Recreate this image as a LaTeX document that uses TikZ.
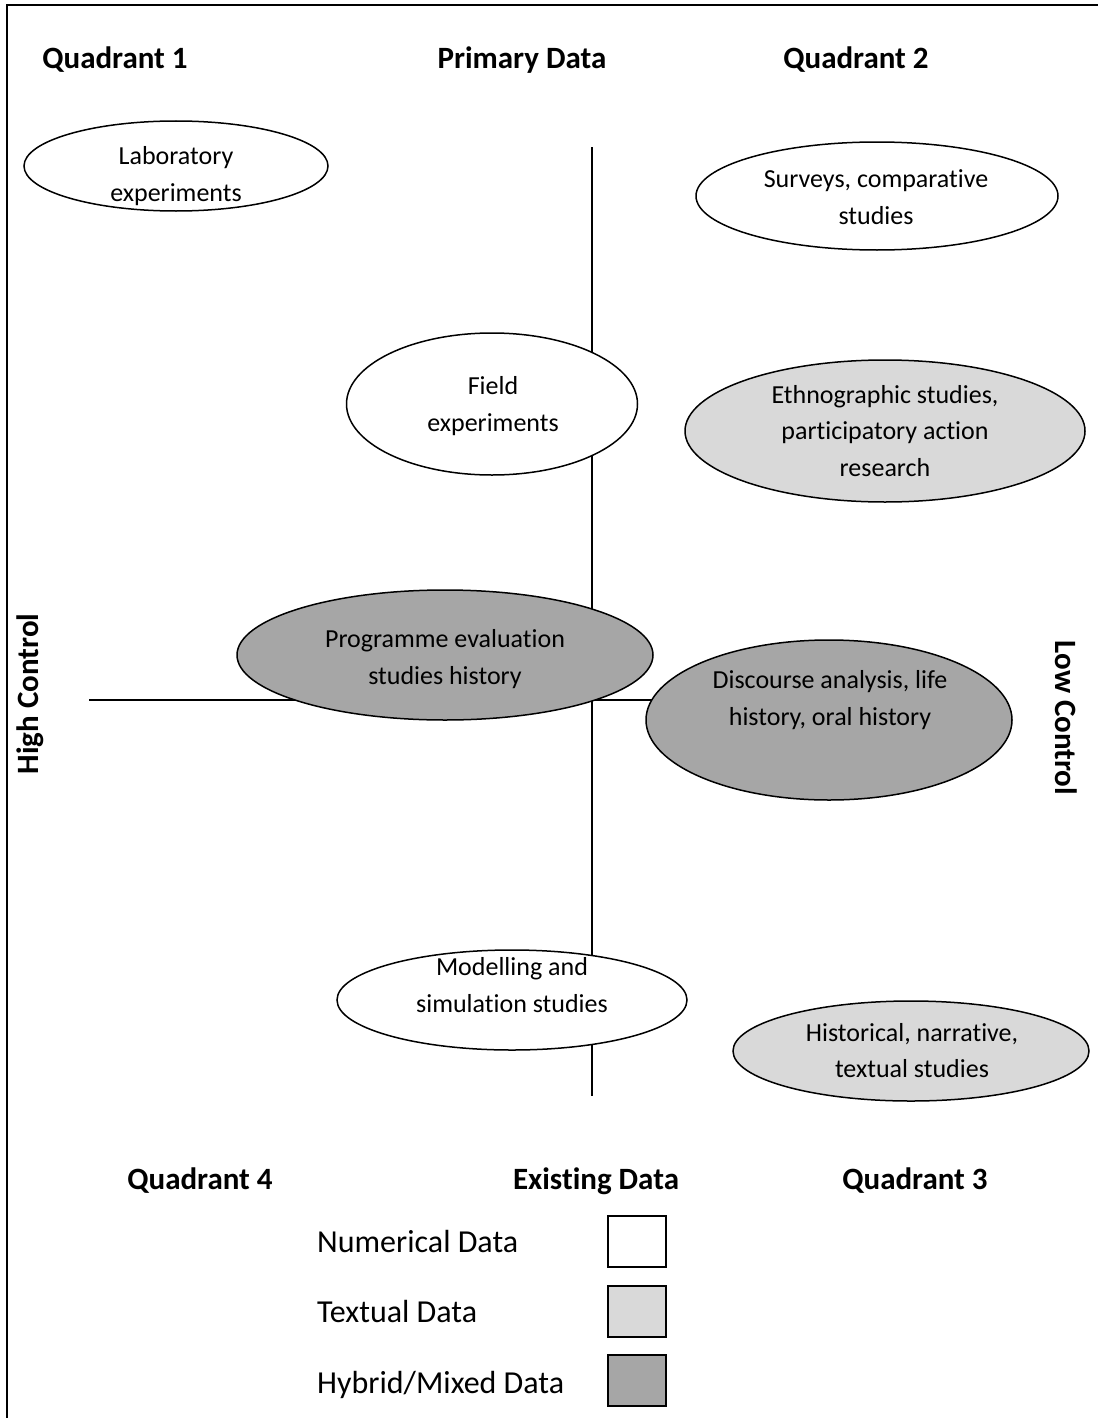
\documentclass[tikz,border=0pt]{standalone}
\usepackage{fontspec}
\setmainfont{Carlito}[Ligatures={NoCommon}, Contextuals={NoAlternate}]
\usetikzlibrary{shapes.geometric}
\definecolor{lightfill}{HTML}{D9D9D9}
\definecolor{darkfill}{HTML}{A6A6A6}
\tikzset{
 oval/.style={ellipse, draw, line width=1.5pt, inner sep=0pt},
 ovaltext/.style={align=center, font=\fontsize{26}{36.5}\selectfont, inner sep=0pt},
 head/.style={font=\bfseries\fontsize{31}{36}\selectfont, inner sep=0pt},
 axisline/.style={line width=2pt},
 frameline/.style={line width=2pt},
 legtext/.style={font=\fontsize{32}{38}\selectfont, anchor=west, inner sep=0pt},
 legbox/.style={draw, line width=2pt, minimum width=58pt, minimum height=51pt, inner sep=0pt}
}
\begin{document}
\begin{tikzpicture}[x=1pt,y=-1pt]
\useasboundingbox (0,0) rectangle (1098,1418);
% frame
\coordinate (fb) at (7,1418);
\coordinate (fc) at (7,5);
\coordinate (fr) at (1098,5);
\draw[frameline] (fb) -- (fc) -- (fr);
% axes
\coordinate (vtop) at (592,147);
\coordinate (vbot) at (592,1096);
\coordinate (hleft) at (89,700);
\coordinate (hright) at (660,700);
\draw[axisline] (vtop) -- (vbot);
\draw[axisline] (hleft) -- (hright);
% ellipses
\node[oval, fill=white, minimum width=304pt, minimum height=90pt] (lab) at (176,166) {};
\node[oval, fill=white, minimum width=362pt, minimum height=108pt] (sur) at (877,196) {};
\node[oval, fill=white, minimum width=291pt, minimum height=142pt] (fie) at (492,404) {};
\node[oval, fill=lightfill, minimum width=400pt, minimum height=142pt] (eth) at (885,431) {};
\node[oval, fill=darkfill, minimum width=416pt, minimum height=130pt] (pro) at (445,655) {};
\node[oval, fill=darkfill, minimum width=366pt, minimum height=160pt] (dis) at (829,720) {};
\node[oval, fill=white, minimum width=350pt, minimum height=100pt] (mod) at (512,1000) {};
\node[oval, fill=lightfill, minimum width=356pt, minimum height=100pt] (his) at (911,1051) {};
% ellipse texts
\node[ovaltext] (labt) at (176,176) {Laboratory\\experiments};
\node[ovaltext] (surt) at (876,197) {Surveys, comparative\\studies};
\node[ovaltext] (fiet) at (493,406) {Field\\experiments};
\node[ovaltext] (etht) at (885,431) {Ethnographic studies,\\participatory action\\research};
\node[ovaltext] (prot) at (445,659) {Programme evaluation\\studies history};
\node[ovaltext] (dist) at (830,700) {Discourse analysis, life\\history, oral history};
\node[ovaltext] (modt) at (512,985) {Modelling and\\simulation studies};
\node[ovaltext] (hist) at (912,1050.5) {Historical, narrative,\\textual studies};
% headings
\node[head] (q1) at (115,60) {Quadrant 1};
\node[head] (pd) at (522,60) {Primary Data};
\node[head] (q2) at (856,60) {Quadrant 2};
\node[head] (q4) at (200,1181) {Quadrant 4};
\node[head] (ed) at (596,1181) {Existing Data};
\node[head] (q3) at (915,1181) {Quadrant 3};
\node[head, rotate=90] (hc) at (30,694) {High Control};
\node[head, rotate=-90] (lc) at (1066,718) {Low Control};
% legend
\node[legtext] (ln) at (317,1241) {Numerical Data};
\node[legtext] (lt) at (317,1311) {Textual Data};
\node[legtext] (lh) at (317,1385) {Hybrid/Mixed Data};
\node[legbox, fill=white] (bn) at (637,1241.5) {};
\node[legbox, fill=lightfill] (bt) at (637,1311) {};
\node[legbox, fill=darkfill] (bh) at (637,1380.5) {};
\end{tikzpicture}
\end{document}
